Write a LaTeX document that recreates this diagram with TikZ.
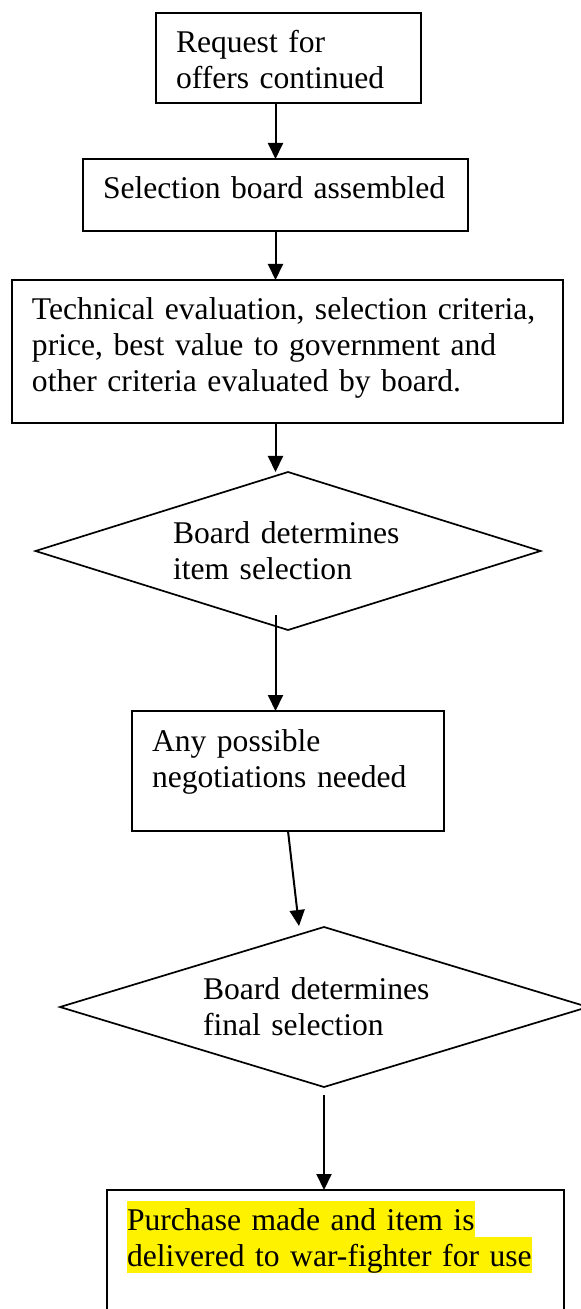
\documentclass[tikz,border=0pt]{standalone}
\usepackage{fontspec}
\setmainfont{Liberation Serif}
\usetikzlibrary{arrows.meta, shapes.geometric, calc}
\newcommand{\hilite}[1]{{\setlength{\fboxsep}{0pt}\colorbox{yellow}{\rule[-3.5pt]{0pt}{18pt}#1}}}

\begin{document}
\begin{tikzpicture}[x=0.5pt, y=-0.5pt,
  every node/.style={font=\fontsize{15.8}{18}\selectfont, outer sep=0pt, execute at begin node={\hyphenpenalty=10000}},
  stepbox/.style={draw, line width=0.9pt, anchor=north west, align=left, inner xsep=10pt, inner ysep=0pt, text height=20pt},
  choice/.style={draw, diamond, line width=0.85pt, aspect=3.2, align=left, inner sep=2pt},
  flow/.style={-{Triangle[length=8pt, width=7.5pt]}, line width=1pt}]
  \useasboundingbox (0,0) rectangle (580,1309);
  \node[stepbox, text width=112.5pt, text depth=25pt] (req) at (156,13) {Request for\\offers continued};
  \node[stepbox, text width=172.5pt, text depth=16pt] (board) at (83,159) {Selection board assembled};
  \node[stepbox, text width=255.5pt, text depth=51.5pt] (eval) at (12,280) {Technical evaluation, selection criteria,\\price, best value to government and\\other criteria evaluated by board.};
  \node[choice, minimum width=252.5pt, minimum height=79pt, text width=115pt] (dec1) at (288,551) {Board determines\\item selection};
  \node[stepbox, text width=136pt, text depth=40pt] (nego) at (132,711) {Any possible\\negotiations needed};
  \node[choice, minimum width=264pt, minimum height=80pt, text width=121pt] (fin) at (324,1007) {Board determines\\final selection};
  \node[stepbox, text width=208.5pt, text depth=45pt] (buy) at (107,1190) {\hilite{Purchase made and item is}\\\hilite{delivered to war-fighter for use}};

  \coordinate (d1out) at ($(dec1.south -| board.south)+(0,-15)$);
  \coordinate (d2in) at ($(fin.north)+(-25,-1)$);
  \coordinate (d2out) at ($(fin.south)+(0,8)$);

  \draw[flow] (req.south -| board.north) -- (board.north);
  \draw[flow] (board.south) -- (board.south |- eval.north);
  \draw[flow] (board.south |- eval.south) -- (board.south |- dec1.north);
  \draw[flow] (d1out) -- (d1out |- nego.north);
  \draw[flow] (nego.south) -- (d2in);
  \draw[flow] (d2out) -- (d2out |- buy.north);
\end{tikzpicture}
\end{document}
